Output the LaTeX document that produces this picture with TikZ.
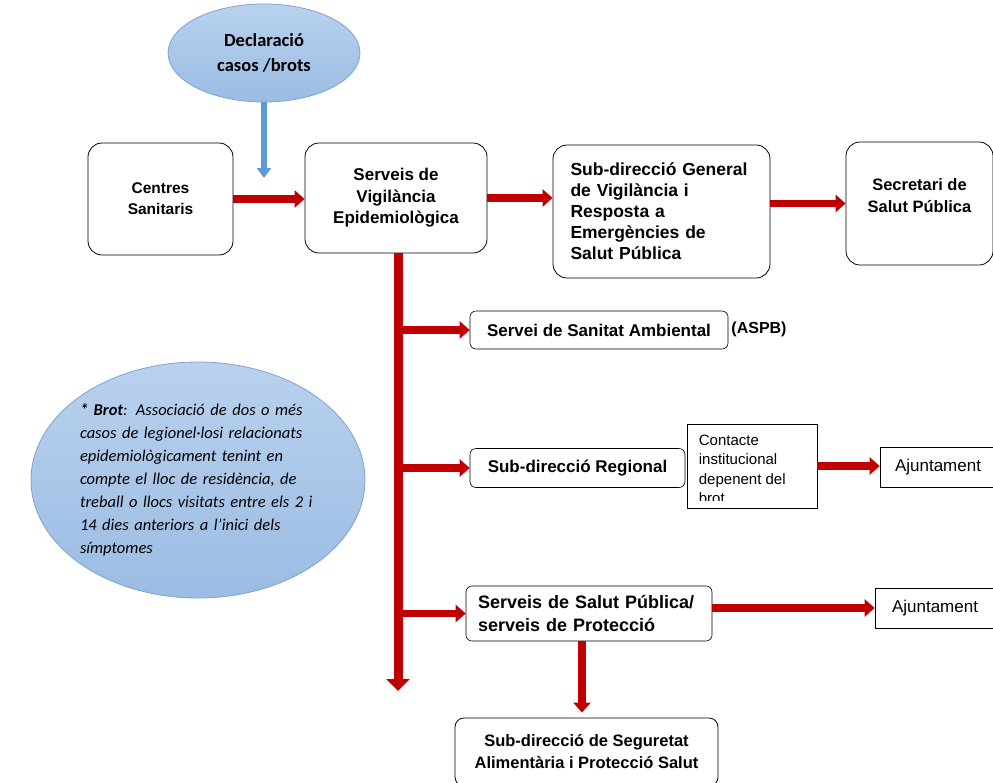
\documentclass[tikz,border=0pt]{standalone}
\usepackage{fontspec}
\setmainfont{Liberation Sans}
\newfontfamily\calibri{Carlito}
\usetikzlibrary{arrows.meta,shapes.geometric}
\definecolor{arrowred}{HTML}{C00000}
\definecolor{bubbletop}{HTML}{B9D1EE}
\definecolor{bubblebottom}{HTML}{9BBCE3}
\definecolor{bubbleline}{HTML}{7FA3D3}
\definecolor{downblue}{HTML}{5B9BD5}
\newcommand\boxfont[2]{\bfseries\fontsize{#1}{#2}\selectfont}
\tikzset{
  bigbox/.style={draw, rounded corners=14pt, line width=0.8pt, inner sep=0pt,
    font=\boxfont{17}{21}},
  smallbox/.style={draw, rounded corners=6pt, line width=0.6pt, inner sep=0pt,
    font=\boxfont{17}{21}},
  plainbox/.style={draw, line width=0.6pt, inner sep=0pt,
    font=\fontsize{17}{20}\selectfont},
  bubble/.style={ellipse, draw=bubbleline, top color=bubbletop, bottom color=bubblebottom,
    line width=0.8pt, inner sep=0pt},
  redarrow/.style={draw=arrowred, line width=7.5pt, -{Triangle[length=10pt,width=17pt]}},
  trunkarrow/.style={draw=arrowred, line width=9pt, -{Triangle[length=12pt,width=23pt]}},
  bluearrow/.style={draw=downblue, line width=6pt, -{Triangle[length=10pt,width=14pt]}},
}
\begin{document}
\begin{tikzpicture}[x=1pt, y=-1pt]
  \useasboundingbox (0,0) rectangle (993,782);
  \clip (0,0) rectangle (993,782);

  % top row
  \node[bubble, minimum width=192, minimum height=98, align=center,
    font=\calibri\bfseries\fontsize{18.5}{25}\selectfont] (decl) at (264,53) {Declaració\\casos /brots};
  \node[bigbox, minimum width=145, minimum height=112, align=center, font=\boxfont{15.5}{21}] (centres) at (160.5,199)
    {Centres\\Sanitaris};
  \node[bigbox, minimum width=182, minimum height=110, align=center, font=\boxfont{17}{21.5}] (vigil) at (396,198)
    {Serveis de\\Vigilància\\Epidemiològica};
  \node[bigbox, minimum width=217, minimum height=133, text width=182, align=left, font=\boxfont{17.5}{21}] (subgen)
    at (661.5,211.5) {Sub-direcció General\\de Vigilància i\\Resposta a\\Emergències de\\Salut Pública};
  \node[bigbox, minimum width=147, minimum height=123, align=center, font=\boxfont{16.5}{22}] (secretari)
    at (919.5,203.5) {Secretari de\\Salut Pública\\[-6pt]};

  % branches
  \node[smallbox, minimum width=258, minimum height=38] (sanitat) at (599,330) {Servei de Sanitat Ambiental};
  \node[font=\boxfont{16}{21}, inner sep=0pt] (aspb) at (759,329) {(ASPB)};
  \node[smallbox, minimum width=215, minimum height=39] (regional) at (577.5,468) {Sub-direcció Regional};
  \node[plainbox, minimum width=130, minimum height=84] (contacte) at (752,466) {};
  \begin{scope}
    \clip ([yshift=8pt]contacte.south west) rectangle (contacte.north east);
    \node[anchor=north west, inner sep=0pt, align=left, font=\fontsize{15}{19.5}\selectfont] (contactetext)
      at ([xshift=12pt, yshift=-11pt]contacte.north west) {Contacte\\institucional\\depenent del\\brot};
  \end{scope}
  \node[plainbox, minimum width=116, minimum height=40] (ajunt1) at (938,467) {Ajuntament};
  \node[smallbox, minimum width=246, minimum height=55, text width=222, align=left, font=\boxfont{18}{23}] (salut)
    at (589,613.5) {Serveis de Salut Pública/\\serveis de Protecció};
  \node[plainbox, minimum width=120, minimum height=40] (ajunt2) at (935,608) {Ajuntament};
  \node[bigbox, rounded corners=9pt, minimum width=263, minimum height=68, align=center, font=\boxfont{16.5}{22}]
    (seguretat) at (586.5,752) {Sub-direcció de Seguretat\\Alimentària i Protecció Salut};

  % note
  \node[bubble, minimum width=334, minimum height=236, text width=236, align=left,
    font=\calibri\itshape\fontsize{16.5}{23}\selectfont] (brot) at (198,480)
    {\textbf{* Brot}: Associació de dos o més\\
     casos de legionel·losi relacionats\\
     epidemiològicament tenint en\\
     compte el lloc de residència, de\\
     treball o llocs visitats entre els 2 i\\
     14 dies anteriors a l’inici dels\\
     símptomes};

  % connectors
  \coordinate (declend) at (264,178);
  \draw[bluearrow] (decl.south) -- (declend);
  \draw[redarrow] (centres.east) -- (centres.east -| vigil.west);
  \draw[redarrow] (vigil.east) -- (vigil.east -| subgen.west);
  \draw[redarrow] (secretari.west -| subgen.east) -- (secretari.west);
  \coordinate (trunkend) at (398,691);
  \draw[trunkarrow] (vigil.south -| trunkend) -- (trunkend);
  \draw[redarrow] (trunkend |- sanitat.west) -- (sanitat.west);
  \draw[redarrow] (trunkend |- regional.west) -- (regional.west);
  \draw[redarrow] (trunkend |- salut.west) -- (salut.west);
  \draw[redarrow] (contacte.east) -- (contacte.east -| ajunt1.west);
  \draw[redarrow] (ajunt2.west -| salut.east) -- (ajunt2.west);
  \draw[redarrow, shorten >=5pt] ([xshift=-7pt]salut.south) -- ([xshift=-7pt]salut.south |- seguretat.north);
\end{tikzpicture}
\end{document}
